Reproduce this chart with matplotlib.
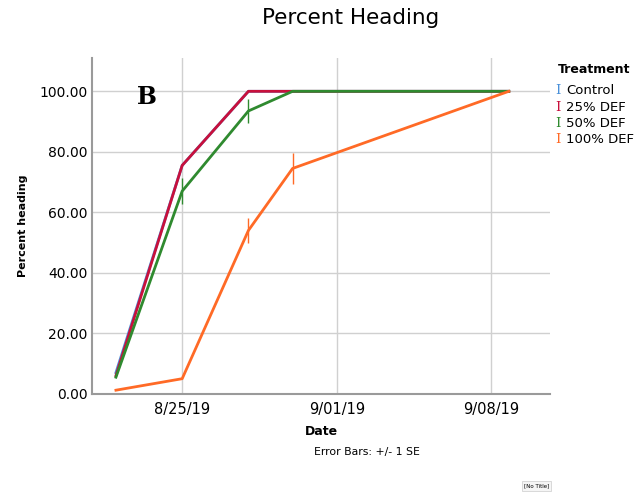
import matplotlib
matplotlib.use("Agg")
import matplotlib.pyplot as plt
import matplotlib.dates as mdates
import pandas as pd

# Observation dates
dates = pd.to_datetime(["2019-08-22 00:00", "2019-08-25 00:00", "2019-08-28 00:00",
                        "2019-08-30 00:00", "2019-09-08 19:00"])

# Mean percent heading per treatment
control = [7.0, 75.5, 100.0, 100.0, 100.0]
def25 = [6.0, 75.5, 100.0, 100.0, 100.0]
def50 = [5.5, 67.0, 93.5, 100.0, 100.0]
def100 = [1.2, 5.0, 54.0, 74.5, 100.0]

# Standard errors
control_se = [0, 0, 0, 0, 0]
def25_se = [0, 0, 0, 0, 0]
def50_se = [0, 4.2, 4.0, 0, 0]
def100_se = [0, 0, 4.2, 5.0, 0]

series = [
    ("Control", control, control_se, "#4a90d9"),
    ("25% DEF", def25, def25_se, "#c8103c"),
    ("50% DEF", def50, def50_se, "#2f8a2f"),
    ("100% DEF", def100, def100_se, "#ff6a26"),
]

tick_dates = pd.to_datetime(["2019-08-25", "2019-09-01", "2019-09-08"])


def date_label(v, pos):
    d = mdates.num2date(v)
    return f"{d.month}/{d.day:02d}/{d.year % 100}"


fig = plt.figure(figsize=(6.39, 4.96), dpi=100)
ax = fig.add_axes([0.144, 0.206, 0.717, 0.677])

for name, vals, se, color in series:
    ax.errorbar(dates, vals, yerr=se, color=color, linewidth=2.0, elinewidth=1.0,
                capsize=0, label=name)

ax.set_xlim(pd.Timestamp("2019-08-20 22:00"), pd.Timestamp("2019-09-10 16:00"))
ax.set_ylim(0, 111)
ax.set_yticks([0, 20, 40, 60, 80, 100])
ax.yaxis.set_major_formatter(plt.FuncFormatter(lambda v, p: f"{v:.2f}"))
ax.set_xticks(tick_dates)
ax.xaxis.set_major_formatter(plt.FuncFormatter(date_label))

ax.grid(color="#d0d0d0", linewidth=1.0)
ax.set_axisbelow(True)
for s in ["top", "right"]:
    ax.spines[s].set_visible(False)
for s in ["left", "bottom"]:
    ax.spines[s].set_color("#9a9a9a")
    ax.spines[s].set_linewidth(1.5)
ax.tick_params(axis="y", length=0, labelsize=10, pad=3)
ax.tick_params(axis="x", length=0, labelsize=10.5, pad=6)

ax.set_xlabel("Date", fontsize=9, fontweight="bold", labelpad=6)
ax.set_ylabel("Percent heading", fontsize=8, fontweight="bold", labelpad=8)

fig.text(0.549, 0.964, "Percent Heading", fontsize=15.5, ha="center", va="center")
ax.text(0.12, 0.885, "B", transform=ax.transAxes, fontsize=17, fontweight="bold",
        family="DejaVu Serif", ha="center", va="center")

fig.text(0.873, 0.859, "Treatment", fontsize=9, fontweight="bold", va="center")
for i, (name, vals, se, color) in enumerate(series):
    y = 0.817 - i * 0.033
    fig.text(0.869, y, "I", color=color, fontsize=9.5, family="DejaVu Serif", va="center")
    fig.text(0.886, y, name, fontsize=9.5, va="center")

fig.text(0.491, 0.089, "Error Bars: +/- 1 SE", fontsize=7.8, va="center")
fig.text(0.820, 0.020, "[No Title]", fontsize=4, va="center",
         bbox=dict(boxstyle="square,pad=0.4", fc="#f5f5f5", ec="#cccccc", lw=0.5))

plt.savefig("out.png", dpi=100)
